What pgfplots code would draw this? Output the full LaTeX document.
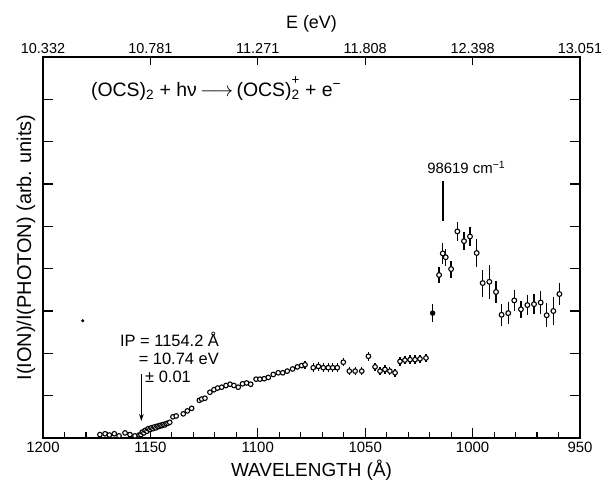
\documentclass[border=0pt]{standalone}
\usepackage{fontspec}
\setmainfont{Liberation Sans}
\usepackage{pgfplots}
\usepackage{pgfplotstable}
\pgfplotsset{compat=1.18}
\usetikzlibrary{arrows.meta}
\pgfplotstableread{
x y e
1078.0 1.73 0.1
1074.2 1.66 0.1
1071.8 1.69 0.1
1069.5 1.66 0.1
1067.2 1.66 0.1
1065.1 1.66 0.1
1063.0 1.66 0.1
1060.2 1.79 0.1
1057.4 1.58 0.1
1054.7 1.58 0.1
1051.6 1.58 0.1
1048.5 1.93 0.1
1045.4 1.68 0.1
1043.1 1.58 0.1
1040.8 1.62 0.1
1038.5 1.58 0.1
1036.1 1.54 0.1
1033.8 1.81 0.1
1031.5 1.84 0.1
1029.1 1.85 0.1
1026.8 1.85 0.1
1024.5 1.87 0.1
1021.7 1.89 0.1
}\smallerr
\pgfplotstableread{
x y e
1015.6 3.85 0.20
1013.9 4.36 0.25
1012.5 4.27 0.20
1010.0 3.99 0.20
1007.1 4.88 0.22
1004.0 4.65 0.21
1001.2 4.76 0.23
998.1 4.37 0.32
995.3 3.66 0.32
992.2 3.69 0.40
989.1 3.45 0.25
986.5 2.91 0.26
983.4 2.95 0.26
980.6 3.25 0.24
977.5 3.04 0.20
974.5 3.14 0.23
971.4 3.16 0.23
968.3 3.20 0.28
965.5 2.90 0.28
962.4 3.00 0.34
959.6 3.40 0.26
}\bigerr
\begin{document}
\begin{tikzpicture}
\begin{axis}[name=ax, scale only axis, width=537bp, height=381bp,
  x dir=reverse, xmin=950, xmax=1200, ymin=0, ymax=9,
  xtick={950,1000,...,1200}, minor x tick num=4,
  xtick pos=left, ytick={1,...,8}, yticklabels={}, ytick pos=both,
  tick align=inside, major tick length=10bp, minor tick length=6bp,
  axis line style={line width=1.3pt},
  every tick/.style={line width=1.1pt, black},
  /pgf/number format/assume math mode=true,
  /pgf/number format/1000 sep={},
  xticklabel style={font=\fontsize{15}{15}\selectfont, yshift=-1bp},
  xlabel={WAVELENGTH (Å)},
  xlabel style={font=\fontsize{19}{19}\selectfont, at={(rel axis cs:0.5,0)}, anchor=center, yshift=-32bp},
  ylabel={I(ION)/I(PHOTON) (arb. units)},
  ylabel style={font=\fontsize{20}{20}\selectfont, at={(rel axis cs:0,0.5)}, anchor=center, yshift=17bp},
  clip=false]
% tiny dot
\addplot[only marks, mark=*, mark size=1.3pt, black] coordinates {(1181.5,2.77)};
% dense / open circle points
\addplot[only marks, mark=*, mark size=2.3pt, mark options={draw=black, fill=white, line width=1.1pt}] coordinates {
(1173.5,0.08) (1171.1,0.10) (1169.1,0.07) (1166.8,0.10) (1164.6,0.05) (1161.8,0.12)
(1159.5,0.08) (1157.2,0.05) (1155.2,0.07)
(1154.4,0.08) (1153.8,0.14) (1153.0,0.12) (1152.4,0.18) (1151.6,0.16) (1151.0,0.22)
(1150.2,0.20) (1149.6,0.24) (1148.8,0.22) (1148.2,0.26) (1147.4,0.24) (1146.8,0.28)
(1146.0,0.27) (1145.4,0.30) (1144.6,0.29) (1144.0,0.32) (1143.2,0.31) (1142.6,0.34)
(1141.8,0.35) (1141.0,0.37)
(1139.5,0.50) (1138.0,0.52) (1134.7,0.57) (1132.8,0.64) (1130.8,0.70)
(1127.2,0.89) (1126.1,0.92) (1124.6,0.94) (1122.3,1.08) (1120.4,1.14) (1118.7,1.18)
(1116.8,1.20) (1114.8,1.24) (1112.9,1.27) (1111.1,1.24) (1109.1,1.20) (1107.1,1.28)
(1105.2,1.30) (1103.3,1.27) (1100.8,1.39) (1099.0,1.39) (1097.0,1.40) (1095.1,1.43)
(1092.8,1.50) (1090.5,1.54) (1088.4,1.54) (1086.3,1.58) (1083.8,1.63) (1081.6,1.68)
(1079.6,1.71)
};
% error bars first, then marks on top
\addplot[only marks, mark=none, black,
  error bars/.cd, y dir=both, y explicit, error mark=none,
  error bar style={line width=1.2pt, black}] table[x=x, y=y, y error=e] {\smallerr};
\addplot[only marks, mark=*, mark size=2.3pt, mark options={draw=black, fill=white, line width=1.1pt}]
  table[x=x, y=y] {\smallerr};
\addplot[only marks, mark=none, black,
  error bars/.cd, y dir=both, y explicit, error mark=none,
  error bar style={line width=1.4pt, black}] table[x=x, y=y, y error=e] {\bigerr};
\addplot[only marks, mark=*, mark size=2.4pt, mark options={draw=black, fill=white, line width=1.1pt}]
  table[x=x, y=y] {\bigerr};
% filled point
\addplot[only marks, mark=*, mark size=2.5pt, black,
  error bars/.cd, y dir=both, y explicit, error mark=none,
  error bar style={line width=1.4pt}] coordinates {(1018.6,2.95) +- (0,0.22)};
% annotations
\node[anchor=base west, font=\fontsize{19.5}{19.5}\selectfont, inner sep=0pt] at (axis cs:1177.7,8.07)
  {(OCS)\textsubscript{2} + hν\,$\longrightarrow$\,(OCS)\rlap{\raisebox{0.2em}{\textsuperscript{+}}}\textsubscript{2} + e\textsuperscript{−}};
\node[anchor=base west, font=\fontsize{15}{15}\selectfont, inner sep=0pt] at (axis cs:1021.2,6.25)
  {98619 cm\textsuperscript{−1}};
\draw[line width=1.2pt] (axis cs:1013.8,6.08) -- (axis cs:1013.8,5.13);
\node[anchor=base west, font=\fontsize{16.5}{16.5}\selectfont, inner sep=0pt] at (axis cs:1164.2,2.16)
  {IP = 1154.2 Å};
\node[anchor=base west, font=\fontsize{16.5}{16.5}\selectfont, inner sep=0pt] at (axis cs:1155.5,1.73)
  {= 10.74 eV};
\node[anchor=base west, font=\fontsize{16.5}{16.5}\selectfont, inner sep=0pt] at (axis cs:1152.5,1.31)
  {± 0.01};
\draw[line width=1.2pt, -{Stealth[length=7bp,width=4.5bp]}] (axis cs:1154.2,1.50) -- (axis cs:1154.2,0.40);
\end{axis}
\begin{axis}[scale only axis, width=537bp, height=381bp,
  x dir=reverse, xmin=950, xmax=1200, ymin=0, ymax=9,
  axis x line*=top, axis y line=none,
  xtick={1200,1150,1100,1050,1000,950},
  xticklabels={10.332,10.781,11.271,11.808,12.398,13.051},
  tick align=inside, major tick length=8bp,
  axis line style={line width=1.3pt},
  every tick/.style={line width=1.1pt, black},
  xticklabel style={font=\fontsize{14.5}{14.5}\selectfont},
  xlabel={E (eV)},
  xlabel style={font=\fontsize{18}{18}\selectfont, at={(rel axis cs:0.5,1)}, anchor=center, yshift=33bp}]
\addplot[draw=none] coordinates {(1100,1)};
\end{axis}
\pgfresetboundingbox
\useasboundingbox ([xshift=-43bp,yshift=-50bp]ax.south west) rectangle ([xshift=21bp,yshift=57bp]ax.north east);
\end{tikzpicture}
\end{document}
